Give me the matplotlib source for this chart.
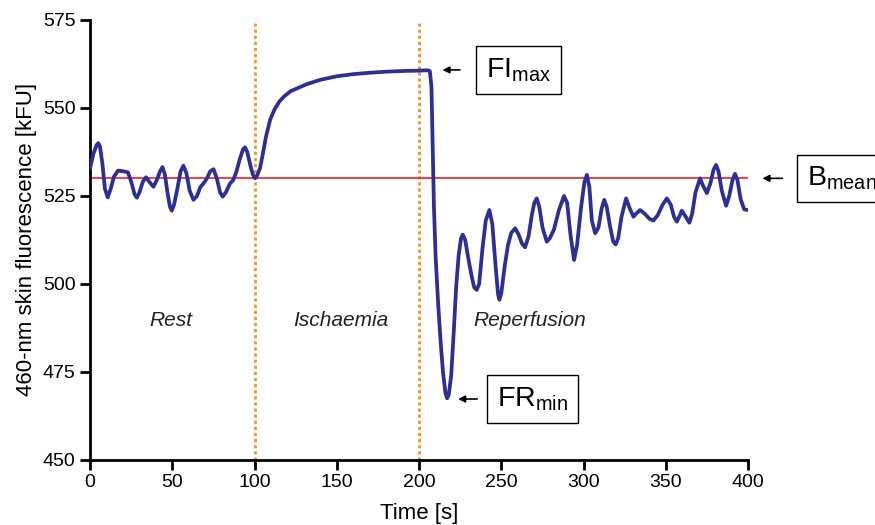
import matplotlib
matplotlib.use("Agg")
import matplotlib.pyplot as plt

plt.rcParams['font.family'] = ['Liberation Sans', 'DejaVu Sans']
plt.rcParams['mathtext.default'] = 'regular'

# time [s] and fluorescence [kFU]
time = [0, 2, 4, 5, 6, 7.5, 9, 10.7, 12.5, 14.5, 17, 20, 23, 25, 27, 28.4, 30, 32, 34, 36,
        38.5, 40.5, 42.5, 44, 45.5, 47, 48.5, 49.6, 51, 53, 55, 56.7, 58.5, 60.5, 62.8, 65,
        67, 69, 71, 73, 75, 77, 79, 80.6, 82.5, 85, 87, 89, 91, 93, 94.2, 95.5, 97.5, 99,
        100.3, 101.5, 103.3, 105, 107, 109.4, 112, 115, 118, 122, 127, 132, 140, 150, 160,
        170, 180, 190, 200, 205, 206.5, 207.5, 208.2, 209, 210, 211.5, 213, 214.5, 216, 217,
        218, 219.5, 221, 222.5, 224, 225.5, 226.5, 228, 230, 232, 233.5, 235, 236.5, 238.5,
        240.5, 242.7, 244.5, 246.5, 248, 248.8, 250, 252, 254, 256, 258.4, 260.5, 262.5,
        264.4, 266.5, 268.5, 270, 271.5, 273, 275, 277.6, 279.5, 282, 285, 288.1, 290, 292,
        294.2, 296, 298.5, 300.5, 302, 303.5, 305, 307, 309, 311, 312.5, 314, 316, 318,
        319.5, 321, 323, 325.8, 328, 330.3, 332, 334.3, 337, 340, 342.4, 345, 348, 350.6,
        353, 355, 356.7, 358, 359.7, 361.5, 364.3, 366, 368, 370.8, 372.5, 374.9, 377, 379,
        380.5, 382, 384, 386.6, 388.5, 390.5, 392, 393.5, 395.5, 397.6, 399.6]
fluor = [533, 537, 539.5, 540, 539, 534, 527, 524.6, 527, 530.5, 532.2, 532, 531.7, 529,
         525.5, 524.5, 526, 529, 530.3, 529, 527.6, 529.5, 532, 533.2, 531, 526, 522, 520.8,
         522.5, 527, 532, 533.6, 531.5, 526.5, 523.9, 525, 527.5, 528.6, 530, 532, 532.6,
         530, 526, 524.8, 526, 528.5, 529.5, 532, 535.5, 538.3, 538.8, 537.5, 533.5, 531,
         530, 530.8, 532.9, 537, 542, 546.6, 549.5, 551.8, 553.3, 554.8, 555.8, 556.8, 558,
         559, 559.6, 560, 560.3, 560.5, 560.6, 560.7, 560.5, 556, 540, 522, 508, 495, 484,
         475, 469, 467.5, 468.5, 474, 486, 499, 508, 513, 514, 512.5, 507, 502, 499, 498.3,
         500, 510, 518, 521, 517, 505, 497, 495.5, 497.5, 505, 511, 514.5, 515.8, 514,
         511.5, 510.4, 513.5, 519.5, 523, 524.3, 522, 516, 512, 513, 515.5, 521, 525, 523,
         514, 506.8, 511, 522, 529, 531, 527.5, 518, 514.4, 516, 521.5, 523.9, 522, 516.5,
         512, 511.2, 513, 519, 524.3, 521.5, 519.1, 520, 521, 520, 518.5, 518, 519.5,
         522.5, 524.3, 522.5, 519, 517.7, 519, 520.8, 519.5, 517.4, 520, 526, 530, 528,
         525.8, 528.5, 532.5, 533.8, 532, 526.5, 522.2, 525, 529.5, 531.3, 529.5, 524,
         521.2, 521]

b_mean = 530
phase_bounds = [100, 200]
phase_names = ["Rest", "Ischaemia", "Reperfusion"]
phase_label_x = [49, 152.5, 267.5]

fig = plt.figure(figsize=(8.75, 5.25), dpi=100)
ax = fig.add_axes([0.103, 0.124, 0.752, 0.838])

ax.plot([0, 400], [b_mean, b_mean], color='#ee1c25', lw=1.2, zorder=2)
for xb in phase_bounds:
    ax.axvline(xb, color='#f7901e', lw=2, ls=(0, (1.1, 1.1)), zorder=1)
ax.plot(time, fluor, color='#2b2f96', lw=2.7, zorder=3)

for name, xp in zip(phase_names, phase_label_x):
    ax.text(xp, 489.5, name, style='italic', fontsize=15, ha='center', va='center',
            color='#222222')

# labelled boxes with arrows
box = dict(boxstyle='square,pad=0.35', fc='white', ec='black', lw=1)
arrow = dict(arrowstyle='-|>', color='black', lw=1.2, mutation_scale=10)

ax.text(240.5, 560.8, 'FI$_{max}$', fontsize=20.5, ha='left', va='center', bbox=box)
ax.annotate('', xy=(212.5, 560.8), xytext=(226.5, 560.8), arrowprops=arrow)

ax.text(247.5, 467.3, 'FR$_{min}$', fontsize=20.5, ha='left', va='center', bbox=box)
ax.annotate('', xy=(222, 467.3), xytext=(237, 467.3), arrowprops=arrow)

ax.text(435.5, 530, 'B$_{mean}$', fontsize=20.5, ha='left', va='center', bbox=box,
        clip_on=False)
ax.annotate('', xy=(407, 530), xytext=(422.5, 530), arrowprops=arrow,
            annotation_clip=False)

ax.set_xlim(0, 400)
ax.set_ylim(450, 575)
ax.set_xticks(range(0, 401, 50))
ax.set_yticks(range(450, 576, 25))
ax.spines['top'].set_visible(False)
ax.spines['right'].set_visible(False)
ax.spines['left'].set_linewidth(2)
ax.spines['bottom'].set_linewidth(2)
ax.tick_params(width=2, length=7, labelsize=14, pad=3.5)
ax.set_xlabel('Time [s]', fontsize=16, labelpad=8)
ax.set_ylabel('460-nm skin fluorescence [kFU]', fontsize=16, labelpad=4)

fig.savefig('out.png', dpi=100)
